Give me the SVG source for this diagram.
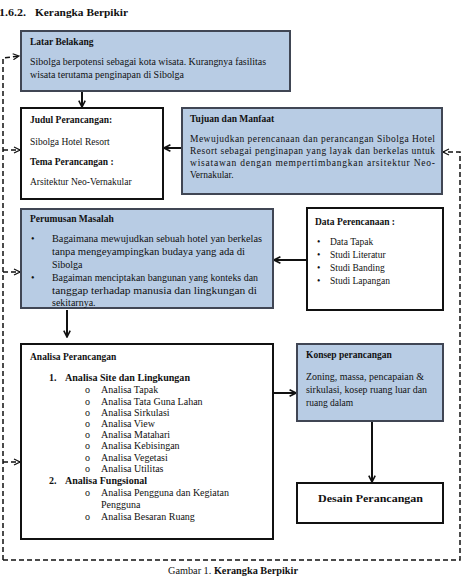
<svg xmlns="http://www.w3.org/2000/svg" width="463" height="576" viewBox="0 0 463 576">
<style>
text{font-family:"Liberation Serif","Times New Roman",serif;fill:#111;font-size:9.5px}
.b{font-weight:bold}
.m{font-size:10px}
.blue{fill:#b8cce4;stroke:#404654;stroke-width:2}
.white{fill:#fff;stroke:#111;stroke-width:2}
.c{stroke:#111;stroke-width:2;fill:none}
.d{stroke:#111;stroke-width:1.5;fill:none;stroke-dasharray:5 3}
</style>
<defs>
<marker id="a" viewBox="0 0 10 10" refX="9" refY="5" markerWidth="4" markerHeight="4" orient="auto"><path d="M1,1 L9,5 L1,9" fill="none" stroke="#111" stroke-width="2"/></marker>
<marker id="ad" viewBox="0 0 10 10" refX="9" refY="5" markerWidth="5" markerHeight="5" orient="auto"><path d="M1,1 L9,5 L1,9" fill="none" stroke="#111" stroke-width="1.6"/></marker>
</defs>
<text class="b" x="-1" y="16" font-size="13" textLength="27" lengthAdjust="spacingAndGlyphs">1.6.2.</text>
<text class="b" x="35" y="16" font-size="13" textLength="93" lengthAdjust="spacingAndGlyphs">Kerangka Berpikir</text>

<g id="connectors">
<line class="c" x1="82" y1="92" x2="82" y2="107" marker-end="url(#a)"/>
<line class="c" x1="182" y1="148" x2="164" y2="148" marker-end="url(#a)"/>
<line class="c" x1="307" y1="260" x2="274" y2="260" marker-end="url(#a)"/>
<line class="c" x1="67" y1="310" x2="67" y2="337" marker-end="url(#a)"/>
<line class="c" x1="273" y1="393" x2="296" y2="393" marker-end="url(#a)"/>
<line class="c" x1="372" y1="422" x2="372" y2="482" marker-end="url(#a)"/>
<polyline class="d" points="3,560 3,58 19,56" marker-end="url(#ad)"/>
<polyline class="d" points="3,150 20,150" marker-end="url(#ad)"/>
<polyline class="d" points="3,272 20,272" marker-end="url(#ad)"/>
<polyline class="d" points="3,462 20,462" marker-end="url(#ad)"/>
<polyline class="d" points="3,560 460,560 460,152 443,152" marker-end="url(#ad)"/>
</g>

<g id="latar">
<rect class="blue" x="21" y="31" width="269" height="60"/>
<text class="b" x="30" y="45">Latar Belakang</text>
<text x="30" y="65" textLength="236" lengthAdjust="spacingAndGlyphs">Sibolga berpotensi sebagai kota wisata. Kurangnya fasilitas</text>
<text x="30" y="78" textLength="154" lengthAdjust="spacingAndGlyphs">wisata terutama penginapan di Sibolga</text>
</g>

<g id="judul">
<rect class="white" x="21" y="108" width="142" height="91"/>
<text class="b" x="30" y="123">Judul Perancangan:</text>
<text x="30" y="145" font-size="8.5">Sibolga Hotel Resort</text>
<text class="b" x="30" y="165">Tema Perancangan :</text>
<text x="30" y="185" font-size="8.5">Arsitektur Neo-Vernakular</text>
</g>

<g id="tujuan">
<rect class="blue" x="182" y="108" width="260" height="86"/>
<text class="b" x="190" y="122">Tujuan dan Manfaat</text>
<text x="190" y="142" textLength="245" lengthAdjust="spacing">Mewujudkan perencanaan dan perancangan Sibolga Hotel</text>
<text x="190" y="154" textLength="245" lengthAdjust="spacing">Resort sebagai penginapan yang layak dan berkelas untuk</text>
<text x="190" y="166" textLength="245" lengthAdjust="spacing">wisatawan dengan mempertimbangkan arsitektur Neo-</text>
<text x="190" y="178">Vernakular.</text>
</g>

<g id="perumusan">
<rect class="blue" x="21" y="209" width="252" height="99"/>
<text class="b" x="30" y="222">Perumusan Masalah</text>
<text class="m" x="31" y="242">•</text>
<text class="m" x="52" y="242" textLength="210" lengthAdjust="spacingAndGlyphs">Bagaimana mewujudkan sebuah hotel yan berkelas</text>
<text class="m" x="52" y="255" textLength="193" lengthAdjust="spacingAndGlyphs">tanpa mengeyampingkan budaya yang ada di</text>
<text class="m" x="52" y="268">Sibolga</text>
<text class="m" x="31" y="281">•</text>
<text class="m" x="52" y="281" textLength="206" lengthAdjust="spacingAndGlyphs">Bagaiman menciptakan bangunan yang konteks dan</text>
<text class="m" x="52" y="294" textLength="205" lengthAdjust="spacingAndGlyphs">tanggap terhadap manusia dan lingkungan di</text>
<text class="m" x="52" y="306">sekitarnya.</text>
</g>

<g id="data">
<rect class="white" x="307" y="208" width="136" height="102"/>
<text class="b" x="315" y="225">Data Perencanaan :</text>
<text x="317" y="245">•</text><text x="330" y="245">Data Tapak</text>
<text x="317" y="258">•</text><text x="330" y="258">Studi Literatur</text>
<text x="317" y="271">•</text><text x="330" y="271">Studi Banding</text>
<text x="317" y="284">•</text><text x="330" y="284">Studi Lapangan</text>
</g>

<g id="analisa">
<rect class="white" x="21" y="344" width="252" height="195"/>
<text class="b" x="30" y="360">Analisa Perancangan</text>
<text class="b m" x="49" y="381">1.</text><text class="b m" x="65" y="381" textLength="125" lengthAdjust="spacingAndGlyphs">Analisa Site dan Lingkungan</text>
<text class="m" x="85" y="393">o</text><text class="m" x="101" y="393">Analisa Tapak</text>
<text class="m" x="85" y="405">o</text><text class="m" x="101" y="405">Analisa Tata Guna Lahan</text>
<text class="m" x="85" y="416">o</text><text class="m" x="101" y="416">Analisa Sirkulasi</text>
<text class="m" x="85" y="427">o</text><text class="m" x="101" y="427">Analisa View</text>
<text class="m" x="85" y="438">o</text><text class="m" x="101" y="438">Analisa Matahari</text>
<text class="m" x="85" y="449">o</text><text class="m" x="101" y="449">Analisa Kebisingan</text>
<text class="m" x="85" y="461">o</text><text class="m" x="101" y="461">Analisa Vegetasi</text>
<text class="m" x="85" y="472">o</text><text class="m" x="101" y="472">Analisa Utilitas</text>
<text class="b m" x="49" y="484">2.</text><text class="b m" x="65" y="484">Analisa Fungsional</text>
<text class="m" x="85" y="496">o</text><text class="m" x="101" y="496" textLength="128" lengthAdjust="spacingAndGlyphs">Analisa Pengguna dan Kegiatan</text>
<text class="m" x="101" y="508">Pengguna</text>
<text class="m" x="85" y="520">o</text><text class="m" x="101" y="520">Analisa Besaran Ruang</text>
</g>

<g id="konsep">
<rect class="blue" x="297" y="344" width="146" height="77"/>
<text class="b" x="306" y="358">Konsep perancangan</text>
<text x="306" y="380" textLength="118" lengthAdjust="spacingAndGlyphs">Zoning, massa, pencapaian &amp;</text>
<text x="306" y="393" textLength="121" lengthAdjust="spacingAndGlyphs">sirkulasi, kosep ruang luar dan</text>
<text x="306" y="406">ruang dalam</text>
</g>

<g id="desain">
<rect class="white" x="297" y="483" width="146" height="40"/>
<text class="b" x="318" y="502" font-size="14" textLength="105" lengthAdjust="spacingAndGlyphs">Desain Perancangan</text>
</g>

<text x="168" y="574" textLength="130" lengthAdjust="spacingAndGlyphs">Gambar 1. <tspan class="b">Kerangka Berpikir</tspan></text>
</svg>
